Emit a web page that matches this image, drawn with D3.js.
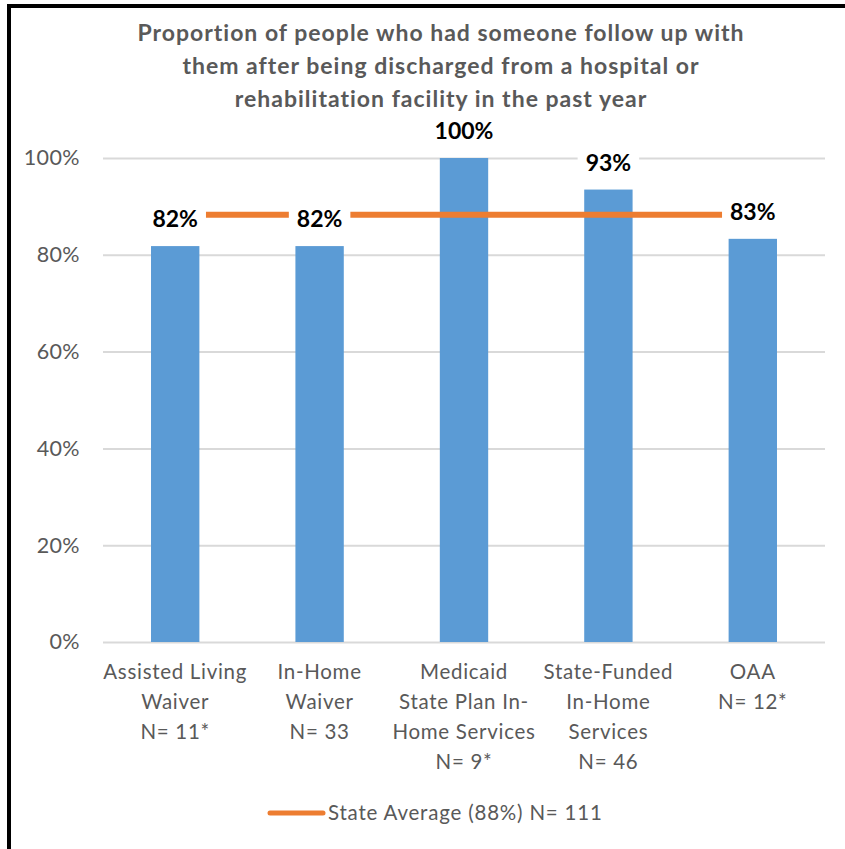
<!DOCTYPE html>
<html>
<head>
<meta charset="utf-8">
<script src="https://cdn.jsdelivr.net/npm/d3@7"></script>
<style>
  html, body { margin: 0; padding: 0; background: #fff; }
  svg { display: block; font-family: Lato, "Open Sans", sans-serif; }
</style>
</head>
<body>
<svg id="chart" width="845" height="849"></svg>
<script>
// Program categories and the share of people followed up after discharge
const categories = [
  "Assisted Living Waiver",
  "In-Home Waiver",
  "Medicaid State Plan In-Home Services",
  "State-Funded In-Home Services",
  "OAA"
];
const categoryLines = [
  ["Assisted Living", "Waiver", "N= 11*"],
  ["In-Home", "Waiver", "N= 33"],
  ["Medicaid", "State Plan In-", "Home Services", "N= 9*"],
  ["State-Funded", "In-Home", "Services", "N= 46"],
  ["OAA", "N= 12*"]
];
const values = [0.818, 0.818, 1.0, 0.9348, 0.833];
const stateAverage = 0.883;
const legendLabel = "State Average (88%) N= 111";
const yTicks = [0, 0.2, 0.4, 0.6, 0.8, 1.0];
const titleLines = [
  "Proportion of people who had someone follow up with",
  "them after being discharged from a hospital or",
  "rehabilitation facility in the past year"
];

const W = 845, H = 849;
const plot = { left: 103, right: 825, top: 158, bottom: 642 };
const svg = d3.select("#chart");

// Outer frame: heavy rules along the top and left edges
svg.append("rect").attr("x", 0).attr("y", 0).attr("width", W).attr("height", H).attr("fill", "#fff");
svg.append("line").attr("x1", 7).attr("x2", W).attr("y1", 6).attr("y2", 6)
  .attr("stroke", "#000").attr("stroke-width", 4);
svg.append("line").attr("x1", 9).attr("x2", 9).attr("y1", 4).attr("y2", H)
  .attr("stroke", "#000").attr("stroke-width", 4);

const x = d3.scaleBand().domain(categories).range([plot.left, plot.right]).padding(0);
const y = d3.scaleLinear().domain([0, 1]).range([plot.bottom, plot.top]);
const barW = x.bandwidth() * 0.335;
const cx = d => x(d) + x.bandwidth() / 2;
const pct = d3.format(".0%");

// Title
svg.append("text")
  .attr("text-anchor", "middle")
  .attr("fill", "#595959")
  .attr("font-weight", "bold")
  .attr("font-size", 23)
  .attr("letter-spacing", 1)
  .selectAll("tspan").data(titleLines).join("tspan")
  .attr("x", 441)
  .attr("y", (d, i) => 41 + i * 33)
  .text(d => d);

// Gridlines and y tick labels
const yAxis = d3.axisLeft(y)
  .tickValues(yTicks)
  .tickFormat(pct)
  .tickSize(-(plot.right - plot.left))
  .tickPadding(23);
const gy = svg.append("g").attr("transform", `translate(${plot.left},0)`).call(yAxis);
gy.select(".domain").remove();
gy.selectAll(".tick line").attr("stroke", "#d9d9d9").attr("stroke-width", 2);
gy.selectAll(".tick text")
  .attr("fill", "#595959")
  .attr("font-size", 21.5)
  .attr("letter-spacing", 0.4)
  .attr("font-family", "Lato, sans-serif");

// Bars
svg.append("g").selectAll("rect").data(categories).join("rect")
  .attr("x", d => cx(d) - barW / 2)
  .attr("width", barW)
  .attr("y", (d, i) => y(values[i]))
  .attr("height", (d, i) => y(0) - y(values[i]))
  .attr("fill", "#5b9bd5");

// State average line across the programs
const avgLine = d3.line().x(d => cx(d)).y(() => y(stateAverage));
svg.append("path")
  .datum([categories[0], categories[categories.length - 1]])
  .attr("d", avgLine)
  .attr("fill", "none")
  .attr("stroke", "#ed7d31")
  .attr("stroke-width", 6);

// Value labels sit on white boxes above each bar
const labels = svg.append("g").selectAll("g").data(categories).join("g")
  .attr("transform", (d, i) => `translate(${cx(d)},${y(values[i]) - 19})`);
labels.append("text")
  .attr("text-anchor", "middle")
  .attr("font-weight", "bold")
  .attr("font-size", 23)
  .attr("fill", "#000")
  .text((d, i) => pct(values[i]));
labels.each(function () {
  const g = d3.select(this);
  const b = g.select("text").node().getBBox();
  g.insert("rect", "text")
    .attr("x", b.x - 8).attr("y", b.y)
    .attr("width", b.width + 16).attr("height", b.height)
    .attr("fill", "#fff");
});

// Category labels
svg.append("g").selectAll("text").data(categories).join("text")
  .attr("text-anchor", "middle")
  .attr("fill", "#595959")
  .attr("font-size", 20.5)
  .attr("letter-spacing", 0.7)
  .each(function (d, i) {
    d3.select(this).selectAll("tspan").data(categoryLines[i]).join("tspan")
      .attr("x", cx(d))
      .attr("y", (t, j) => 679 + j * 30)
      .text(t => t);
  });

// Legend
svg.append("line")
  .attr("x1", 270).attr("x2", 323).attr("y1", 813).attr("y2", 813)
  .attr("stroke", "#ed7d31").attr("stroke-width", 5).attr("stroke-linecap", "round");
svg.append("text")
  .attr("x", 328).attr("y", 820)
  .attr("fill", "#595959")
  .attr("font-size", 20.5)
  .attr("letter-spacing", 0.8)
  .text(legendLabel);
</script>
</body>
</html>
